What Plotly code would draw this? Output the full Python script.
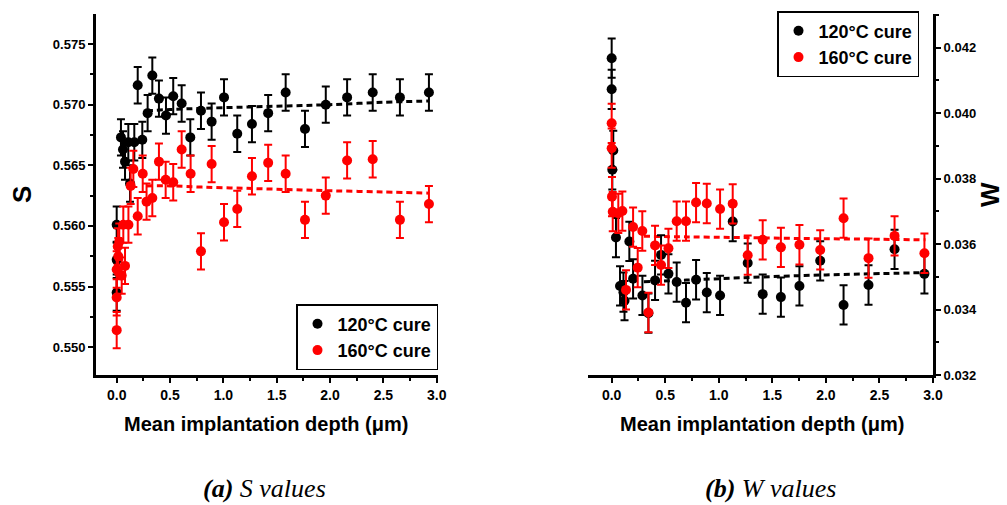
import plotly.graph_objects as go

# ---------------- data ----------------
# (a) S values
x_s_120 = [0.0, 0.0, 0.0, 0.04, 0.059, 0.078, 0.109, 0.125, 0.165, 0.197, 0.24, 0.29, 0.334, 0.396,
           0.462, 0.53, 0.609, 0.69, 0.79, 0.89, 1.006, 1.13, 1.268, 1.42, 1.584, 1.765, 1.96, 2.16,
           2.40, 2.655, 2.927]
s_120 = [0.5545, 0.5572, 0.5601, 0.5673, 0.5663, 0.5653, 0.5669, 0.5635, 0.5669, 0.5716, 0.5671,
         0.5693, 0.5724, 0.5705, 0.5691, 0.5707, 0.5701, 0.5673, 0.5695, 0.5686, 0.5706, 0.5676,
         0.5684, 0.5693, 0.5710, 0.5680, 0.5700, 0.5706, 0.5710, 0.5706, 0.5710]
s_120_err = 0.0015

x_s_160 = [0.0, 0.0, 0.0, 0.01, 0.015, 0.024, 0.047, 0.062, 0.078, 0.11, 0.131, 0.156, 0.197, 0.244,
           0.28, 0.334, 0.396, 0.459, 0.53, 0.609, 0.693, 0.79, 0.89, 1.006, 1.13, 1.268, 1.42,
           1.584, 1.765, 1.96, 2.16, 2.40, 2.655, 2.927]
s_160 = [0.5514, 0.5541, 0.5564, 0.5583, 0.5575, 0.5587, 0.5559, 0.5601, 0.5567, 0.5601, 0.5633,
         0.5647, 0.5608, 0.5643, 0.5620, 0.5623, 0.5653, 0.5638, 0.5636, 0.5663, 0.5643, 0.5579,
         0.5651, 0.5603, 0.5614, 0.5641, 0.5652, 0.5643, 0.5605, 0.5625, 0.5654, 0.5655, 0.5605,
         0.5618]
s_160_err = 0.0015

fit_s_x = [0.28, 0.5, 0.8, 1.2, 1.6, 2.0, 2.5, 2.93]
fit_s_120 = [0.5695, 0.5696, 0.5697, 0.5698, 0.5699, 0.5700, 0.5702, 0.5703]
fit_s_160 = [0.5633, 0.5633, 0.5632, 0.5631, 0.5630, 0.5629, 0.5628, 0.5627]

# (b) W values
x_w_120 = [0.0, 0.0, 0.006, 0.015, 0.04, 0.078, 0.11, 0.12, 0.165, 0.2, 0.287, 0.343, 0.405, 0.461,
           0.53, 0.607, 0.694, 0.788, 0.888, 1.012, 1.13, 1.27, 1.41, 1.58, 1.753, 1.947, 2.165,
           2.398, 2.641, 2.92]
w_120 = [0.04168, 0.04073, 0.03827, 0.03886, 0.03620, 0.03472, 0.03453, 0.03427, 0.03608, 0.03494,
         0.03443, 0.03389, 0.03489, 0.03567, 0.03509, 0.03484, 0.03421, 0.03491, 0.03452, 0.03443,
         0.03669, 0.03542, 0.03447, 0.03438, 0.03472, 0.03549, 0.03414, 0.03475, 0.03584, 0.03509]
w_120_err = 0.0006

x_w_160 = [0.0, 0.0, 0.003, 0.01, 0.062, 0.1, 0.134, 0.2, 0.243, 0.286, 0.343, 0.405, 0.461, 0.53,
           0.607, 0.694, 0.788, 0.888, 1.012, 1.13, 1.27, 1.41, 1.58, 1.753, 1.947, 2.165, 2.398,
           2.641, 2.92]
w_160 = [0.03969, 0.03893, 0.03745, 0.03699, 0.03694, 0.03701, 0.03460, 0.03652, 0.03528, 0.03640,
         0.03391, 0.03596, 0.03536, 0.03587, 0.03670, 0.03670, 0.03727, 0.03724, 0.03707, 0.03723,
         0.03566, 0.03613, 0.03590, 0.03598, 0.03582, 0.03679, 0.03557, 0.03625, 0.03572]
w_160_err = 0.0006

fit_w_x = [0.3, 0.7, 1.2, 1.8, 2.4, 2.93]
fit_w_120 = [0.03485, 0.03490, 0.03497, 0.03504, 0.03509, 0.03513]
fit_w_160 = [0.03624, 0.03622, 0.03620, 0.03617, 0.03615, 0.03613]

series_names = ["120°C cure", "160°C cure"]
colors = ["#000000", "#ff0000"]

# ---------------- figure ----------------
W, H = 1007, 505
fig = go.Figure()

def px_x(p):
    return p / W

def px_y(p):
    return 1 - p / H

BOLD = dict(family="Liberation Sans, Arial, sans-serif", color="black", weight="bold")
SERIF = "Liberation Serif, DejaVu Serif, serif"

def add_pts(x, y, err, name, color, xa, ya, legend):
    fig.add_trace(go.Scatter(
        x=x, y=y, mode="markers", name=name, xaxis=xa, yaxis=ya, legend=legend,
        marker=dict(color=color, size=10, line=dict(width=0)),
        error_y=dict(type="constant", value=err, color=color, thickness=2, width=4),
    ))

def add_fit(x, y, color, xa, ya):
    fig.add_trace(go.Scatter(
        x=x, y=y, mode="lines", xaxis=xa, yaxis=ya, showlegend=False, hoverinfo="skip",
        line=dict(color=color, width=3, dash="6px,4px", shape="spline"),
    ))

add_fit(fit_s_x, fit_s_120, colors[0], "x", "y")
add_fit(fit_s_x, fit_s_160, colors[1], "x", "y")
add_pts(x_s_120, s_120, s_120_err, series_names[0], colors[0], "x", "y", "legend")
add_pts(x_s_160, s_160, s_160_err, series_names[1], colors[1], "x", "y", "legend")

add_fit(fit_w_x, fit_w_120, colors[0], "x2", "y2")
add_fit(fit_w_x, fit_w_160, colors[1], "x2", "y2")
add_pts(x_w_120, w_120, w_120_err, series_names[0], colors[0], "x2", "y2", "legend2")
add_pts(x_w_160, w_160, w_160_err, series_names[1], colors[1], "x2", "y2", "legend2")

ydom = [px_y(375), px_y(14)]

common_axis = dict(
    showgrid=False, zeroline=False, showline=True, linecolor="black", linewidth=3,
    ticks="outside", ticklen=5, tickwidth=2, tickcolor="black",
    tickfont=dict(size=13, **BOLD), mirror=False,
)
minor_x = dict(tickvals=[0.25, 0.75, 1.25, 1.75, 2.25, 2.75], ticks="outside", ticklen=3, tickwidth=2, tickcolor="black")
xticks = dict(tickvals=[0, 0.5, 1, 1.5, 2, 2.5, 3], ticktext=["0.0", "0.5", "1.0", "1.5", "2.0", "2.5", "3.0"])

fig.update_layout(
    autosize=True,
    margin=dict(l=0, r=0, t=0, b=0, autoexpand=False),
    paper_bgcolor="white", plot_bgcolor="white",
    showlegend=True,
    xaxis=dict(domain=[px_x(96), px_x(438)], range=[-0.194, 3.012], anchor="y",
               minor=minor_x, **xticks,
               **{**common_axis, "tickfont": dict(size=14, **BOLD)}),
    yaxis=dict(domain=ydom, range=[0.5477, 0.57748], anchor="x",
               tickvals=[0.550, 0.555, 0.560, 0.565, 0.570, 0.575], tickformat=".3f",
               minor=dict(tickvals=[0.5525, 0.5575, 0.5625, 0.5675, 0.5725, 0.5775], ticks="outside", ticklen=3, tickwidth=2, tickcolor="black"),
               **common_axis),
    xaxis2=dict(domain=[px_x(588), px_x(933)], range=[-0.221, 3.0], anchor="y2",
                minor=minor_x, **xticks,
                **{**common_axis, "tickfont": dict(size=14, **BOLD)}),
    yaxis2=dict(domain=ydom, range=[0.032, 0.04303], anchor="x2", side="right",
                tickvals=[0.032, 0.034, 0.036, 0.038, 0.040, 0.042], tickformat=".3f",
                minor=dict(tickvals=[0.033, 0.035, 0.037, 0.039, 0.041, 0.043], ticks="outside", ticklen=3, tickwidth=2, tickcolor="black"),
                **common_axis),
    legend=dict(x=px_x(438), y=px_y(370), xanchor="right", yanchor="bottom",
                bordercolor="black", borderwidth=1.5, bgcolor="white",
                font=dict(size=18, **BOLD), itemwidth=30, tracegroupgap=0),
    legend2=dict(x=px_x(919), y=px_y(11), xanchor="right", yanchor="top",
                 bordercolor="black", borderwidth=1.5, bgcolor="white",
                 font=dict(size=18, **BOLD), itemwidth=30, tracegroupgap=0),
)

annotations = [
    dict(text="Mean implantation depth (μm)", x=px_x(266), y=px_y(424), font=dict(size=20, **BOLD)),
    dict(text="Mean implantation depth (μm)", x=px_x(762), y=px_y(424), font=dict(size=20, **BOLD)),
    dict(text="S", x=px_x(22), y=px_y(195), textangle=-90, font=dict(size=26, **BOLD)),
    dict(text="W", x=px_x(990), y=px_y(195), textangle=-90, font=dict(size=26, **BOLD)),
    dict(text="<b><i>(a)</i></b> <i>S values</i>", x=px_x(264), y=px_y(488),
         font=dict(size=26, family=SERIF, color="black")),
    dict(text="<b><i>(b)</i></b> <i>W values</i>", x=px_x(770), y=px_y(488),
         font=dict(size=26, family=SERIF, color="black")),
]
for a in annotations:
    a.update(xref="paper", yref="paper", showarrow=False, xanchor="center", yanchor="middle")
fig.update_layout(annotations=annotations)

fig.write_html(
    "out.html",
    default_width="100vw",
    default_height="100vh",
    config={"displayModeBar": False, "responsive": True},
    post_script=(
        "document.documentElement.style.margin='0';document.documentElement.style.overflow='hidden';"
        "document.body.style.margin='0';document.body.style.overflow='hidden';"
        "Plotly.Plots.resize(document.getElementById('{plot_id}'));"
    ),
)
